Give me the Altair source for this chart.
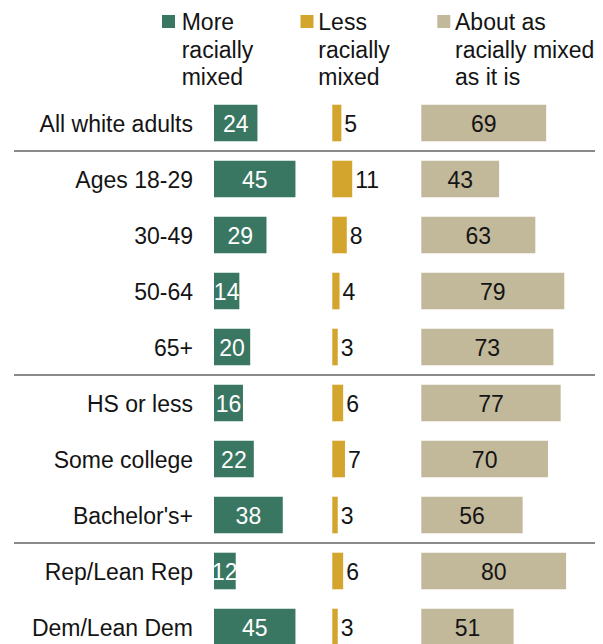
import altair as alt
import pandas as pd

# ---- data ----
categories = ["All white adults", "Ages 18-29", "30-49", "50-64", "65+",
              "HS or less", "Some college", "Bachelor's+", "Rep/Lean Rep", "Dem/Lean Dem"]
more = [24, 45, 29, 14, 20, 16, 22, 38, 12, 45]
less = [5, 11, 8, 4, 3, 6, 7, 3, 6, 3]
about = [69, 43, 63, 79, 73, 77, 70, 56, 80, 51]
series_names = ["More racially mixed", "Less racially mixed", "About as racially mixed as it is"]
legend_lines = [["More", "racially", "mixed"],
                ["Less", "racially", "mixed"],
                ["About as", "racially mixed", "as it is"]]
group_breaks = [0.5, 4.5, 7.5]  # separators between groups of rows

# ---- layout (pixels) ----
W, H = 587, 636
PX = 1.81                       # pixels per percentage point
col_start_px = [206, 324.3, 413.3]
leg_sq_px = [160.5, 299.0, 435.8]
leg_tx_px = [173.7, 310.3, 447.0]
ROW0, STEP = 115, 56
HALF = 18.3 / STEP
LEG_Y0, LEG_LH = 13.5, 27.5
colors = ["#3a7762", "#d3a52d", "#c2b99b"]
FONT = "Liberation Sans"
FS = 23
DY = 1.5
TXT = "#141414"


def ux(p):  # pixel -> x units
    return p / PX


def uy(p):  # pixel -> y units
    return (p - ROW0) / STEP


rows = []
for s, vals in enumerate([more, less, about]):
    for i, (c, v) in enumerate(zip(categories, vals)):
        start = ux(col_start_px[s])
        rows.append(dict(cat=c, pos=i, series=series_names[s], sidx=s, value=v,
                         start=start, end=start + v, mid=start + v / 2,
                         y0=i - HALF, y1=i + HALF))
df = pd.DataFrame(rows)
cat_df = pd.DataFrame(dict(cat=categories, pos=list(range(len(categories))), lx=ux(185)))
brk_df = pd.DataFrame(dict(b=group_breaks, bx1=ux(6), bx2=ux(W)))
leg_sq_df = pd.DataFrame(dict(series=series_names, sx=[ux(p) for p in leg_sq_px], sy=uy(LEG_Y0)))
leg_rows = []
for s, lines in enumerate(legend_lines):
    for k, t in enumerate(lines):
        leg_rows.append(dict(text=t, tx=ux(leg_tx_px[s]), ty=uy(LEG_Y0 + k * LEG_LH)))
leg_txt_df = pd.DataFrame(leg_rows)

xs = alt.Scale(domain=[0, W / PX], range=[0, W], nice=False, zero=False)
ys = alt.Scale(domain=[uy(0), uy(H)], range=[0, H], nice=False, zero=False)
cs = alt.Scale(domain=series_names, range=colors)


def X(f):
    return alt.X(f, scale=xs, axis=None)


def Y(f):
    return alt.Y(f, scale=ys, axis=None)


base = alt.Chart(df)

bars = base.mark_rect().encode(
    x=X("start:Q"), x2="end:Q",
    y=Y("y0:Q"), y2="y1:Q",
    color=alt.Color("series:N", scale=cs, legend=None),
)

green_labels = base.transform_filter("datum.sidx == 0").mark_text(
    font=FONT, fontSize=FS, baseline="middle", align="center", color="#ffffff", dy=DY
).encode(x=X("mid:Q"), y=Y("pos:Q"), text="value:Q")

tan_labels = base.transform_filter("datum.sidx == 2").mark_text(
    font=FONT, fontSize=FS, baseline="middle", align="center", color=TXT, dy=DY
).encode(x=X("mid:Q"), y=Y("pos:Q"), text="value:Q")

gold_labels = base.transform_filter("datum.sidx == 1").mark_text(
    font=FONT, fontSize=FS, baseline="middle", align="left", dx=3, color=TXT, dy=DY
).encode(x=X("end:Q"), y=Y("pos:Q"), text="value:Q")

row_labels = alt.Chart(cat_df).mark_text(
    font=FONT, fontSize=FS, baseline="middle", align="right", color=TXT, dy=DY
).encode(x=X("lx:Q"), y=Y("pos:Q"), text="cat:N")

seps = alt.Chart(brk_df).mark_rule(color="#8a8a8a", strokeWidth=2).encode(
    x=X("bx1:Q"), x2="bx2:Q", y=Y("b:Q"),
)

leg_sq = alt.Chart(leg_sq_df).mark_square(size=169, opacity=1).encode(
    x=X("sx:Q"), y=Y("sy:Q"),
    color=alt.Color("series:N", scale=cs, legend=None),
)

leg_txt = alt.Chart(leg_txt_df).mark_text(
    font=FONT, fontSize=FS, align="left", baseline="middle", color=TXT, dy=DY
).encode(x=X("tx:Q"), y=Y("ty:Q"), text="text:N")

chart = alt.layer(seps, bars, green_labels, tan_labels, gold_labels, row_labels, leg_sq, leg_txt).properties(
    width=W, height=H, padding=0, autosize="none"
).configure_view(stroke=None)

chart.save("out.html", embed_options={"renderer": "svg", "actions": False})
